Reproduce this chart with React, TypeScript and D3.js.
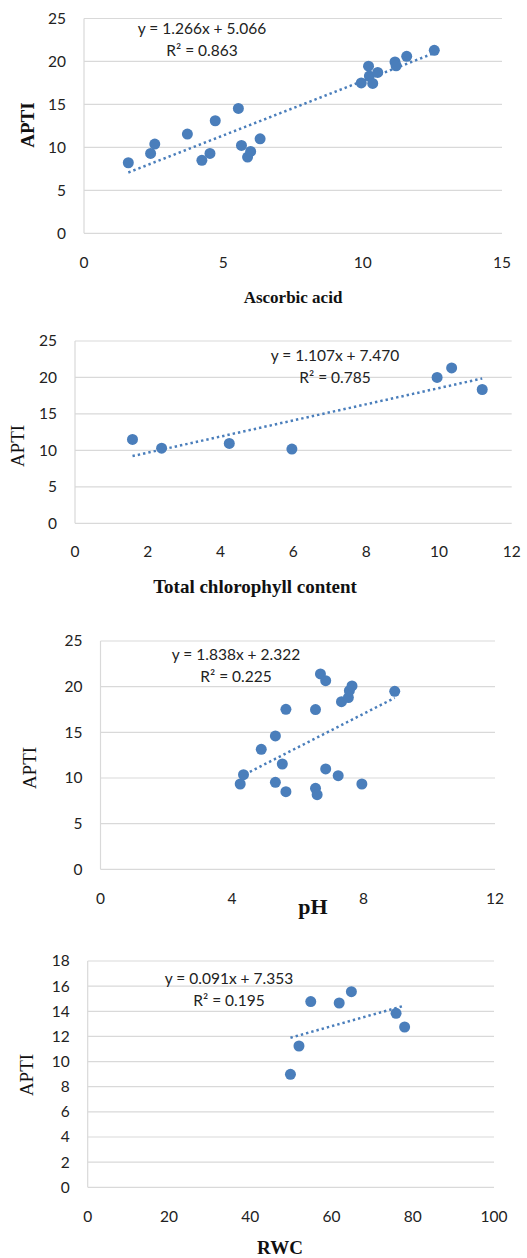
import React from 'react';
import * as d3 from 'd3';

// Ascorbic acid vs APTI
const ascorbicX = [1.59, 2.39, 2.54, 3.71, 4.23, 4.52, 4.71, 5.54, 5.65, 5.87, 5.98, 6.32, 9.95, 10.21, 10.24, 10.36, 10.54, 11.16, 11.2, 11.58, 12.57];
const ascorbicY = [8.21, 9.3, 10.38, 11.55, 8.49, 9.3, 13.1, 14.53, 10.23, 8.87, 9.53, 11.0, 17.5, 19.45, 18.3, 17.44, 18.72, 19.95, 19.5, 20.6, 21.3];

// Total chlorophyll vs APTI
const chlorX = [1.58, 2.38, 4.24, 5.96, 9.95, 10.35, 11.19];
const chlorY = [11.5, 10.3, 10.96, 10.18, 20.0, 21.3, 18.35];

// pH vs APTI
const phX = [4.25, 4.35, 4.89, 5.32, 5.32, 5.53, 5.64, 5.64, 6.54, 6.54, 6.59, 6.69, 6.85, 6.85, 7.23, 7.33, 7.54, 7.57, 7.65, 7.95, 8.95];
const phY = [9.34, 10.36, 13.14, 14.6, 9.53, 11.53, 17.52, 8.5, 17.49, 8.87, 8.17, 21.39, 20.66, 10.99, 10.25, 18.36, 18.8, 19.56, 20.08, 9.34, 19.49];

// RWC vs APTI
const rwcX = [49.9, 52.0, 54.9, 61.9, 64.9, 75.9, 78.0];
const rwcY = [8.99, 11.24, 14.77, 14.66, 15.56, 13.84, 12.75];

const xTitles = ['Ascorbic acid', 'Total chlorophyll content', 'pH', 'RWC'];
const xTicks = [[0, 5, 10, 15], [0, 2, 4, 6, 8, 10, 12], [0, 4, 8, 12], [0, 20, 40, 60, 80, 100]];
const yTicks = [[0, 5, 10, 15, 20, 25], [0, 5, 10, 15, 20, 25], [0, 5, 10, 15, 20, 25], [0, 2, 4, 6, 8, 10, 12, 14, 16, 18]];
const slopes = [1.266, 1.107, 1.838, 0.091];
const intercepts = [5.066, 7.470, 2.322, 7.353];
const r2s = ['0.863', '0.785', '0.225', '0.195'];

const blue = '#4a7ebb';
const grid = '#d9d9d9';
const tickFont = 'Lato, "Open Sans", sans-serif';
const serif = '"Liberation Serif", "Times New Roman", serif';
const fs = 15.5;

const panels = [
  { xs: ascorbicX, ys: ascorbicY, left: 84, right: 502, top: 18.5, bottom: 233.3, tickY: 263, titleX: 293, titleY: 303, titleSize: 17, yTitleX: 27, yTitleY: 125, yBold: true, eqX: 202, eqY: 34 },
  { xs: chlorX, ys: chlorY, left: 75, right: 511.7, top: 341, bottom: 523.3, tickY: 551.7, titleX: 255, titleY: 593, titleSize: 19, yTitleX: 17, yTitleY: 446, yBold: false, eqX: 335, eqY: 361 },
  { xs: phX, ys: phY, left: 100.5, right: 495, top: 641, bottom: 869.3, tickY: 899, titleX: 313, titleY: 914, titleSize: 22, yTitleX: 29, yTitleY: 768, yBold: false, eqX: 236, eqY: 660 },
  { xs: rwcX, ys: rwcY, left: 87.7, right: 494, top: 961, bottom: 1187.3, tickY: 1216.7, titleX: 280, titleY: 1254, titleSize: 19, yTitleX: 26, yTitleY: 1075, yBold: false, eqX: 229, eqY: 984 },
];

function Panel({ i }: { i: number }) {
  const p = panels[i];
  const xt = xTicks[i];
  const yt = yTicks[i];
  const x = d3.scaleLinear().domain([xt[0], xt[xt.length - 1]]).range([p.left, p.right]);
  const y = d3.scaleLinear().domain([yt[0], yt[yt.length - 1]]).range([p.bottom, p.top]);
  const [xmin, xmax] = d3.extent(p.xs) as [number, number];
  const trend = d3.line<number>()
    .x(d => x(d))
    .y(d => y(slopes[i] * d + intercepts[i]));

  return (
    <g>
      {yt.map(t => (
        <line key={'g' + t} x1={p.left} x2={p.right} y1={y(t)} y2={y(t)} stroke={grid} strokeWidth={1.2} />
      ))}
      <line x1={p.left} x2={p.left} y1={p.top} y2={p.bottom} stroke={grid} strokeWidth={1.2} />
      {yt.map(t => (
        <text key={'y' + t} x={p.left - 18} y={y(t)} dy="0.35em" textAnchor="end"
          fontFamily={tickFont} fontSize={fs} fill="#222">{t}</text>
      ))}
      {xt.map(t => (
        <text key={'x' + t} x={x(t)} y={p.tickY} dy="0.35em" textAnchor="middle"
          fontFamily={tickFont} fontSize={fs} fill="#222">{t}</text>
      ))}
      <path d={trend([xmin, xmax]) || ''} fill="none" stroke={blue} strokeWidth={2.5}
        strokeDasharray="2.4,3" />
      {p.xs.map((v, j) => (
        <circle key={j} cx={x(v)} cy={y(p.ys[j])} r={5.5} fill={blue} />
      ))}
      <text x={p.eqX} y={p.eqY} textAnchor="middle" fontFamily={tickFont} fontSize={fs} fill="#222">
        {'y = ' + slopes[i].toFixed(3) + 'x + ' + intercepts[i].toFixed(3)}
      </text>
      <text x={p.eqX} y={p.eqY + 22} textAnchor="middle" fontFamily={tickFont} fontSize={fs} fill="#222">
        {'R² = ' + r2s[i]}
      </text>
      <text x={p.titleX} y={p.titleY} textAnchor="middle" fontFamily={serif} fontWeight="bold"
        fontSize={p.titleSize} fill="#111">{xTitles[i]}</text>
      <text transform={'translate(' + p.yTitleX + ',' + p.yTitleY + ') rotate(-90)'} dy="0.35em"
        textAnchor="middle" fontFamily={serif} fontWeight={p.yBold ? 'bold' : 'normal'}
        fontSize={19} fill="#111">APTI</text>
    </g>
  );
}

export default function App() {
  return (
    <svg width={527} height={1258} style={{ position: 'absolute', left: 0, top: 0, background: '#fff' }}>
      {panels.map((_, i) => <Panel key={i} i={i} />)}
    </svg>
  );
}
